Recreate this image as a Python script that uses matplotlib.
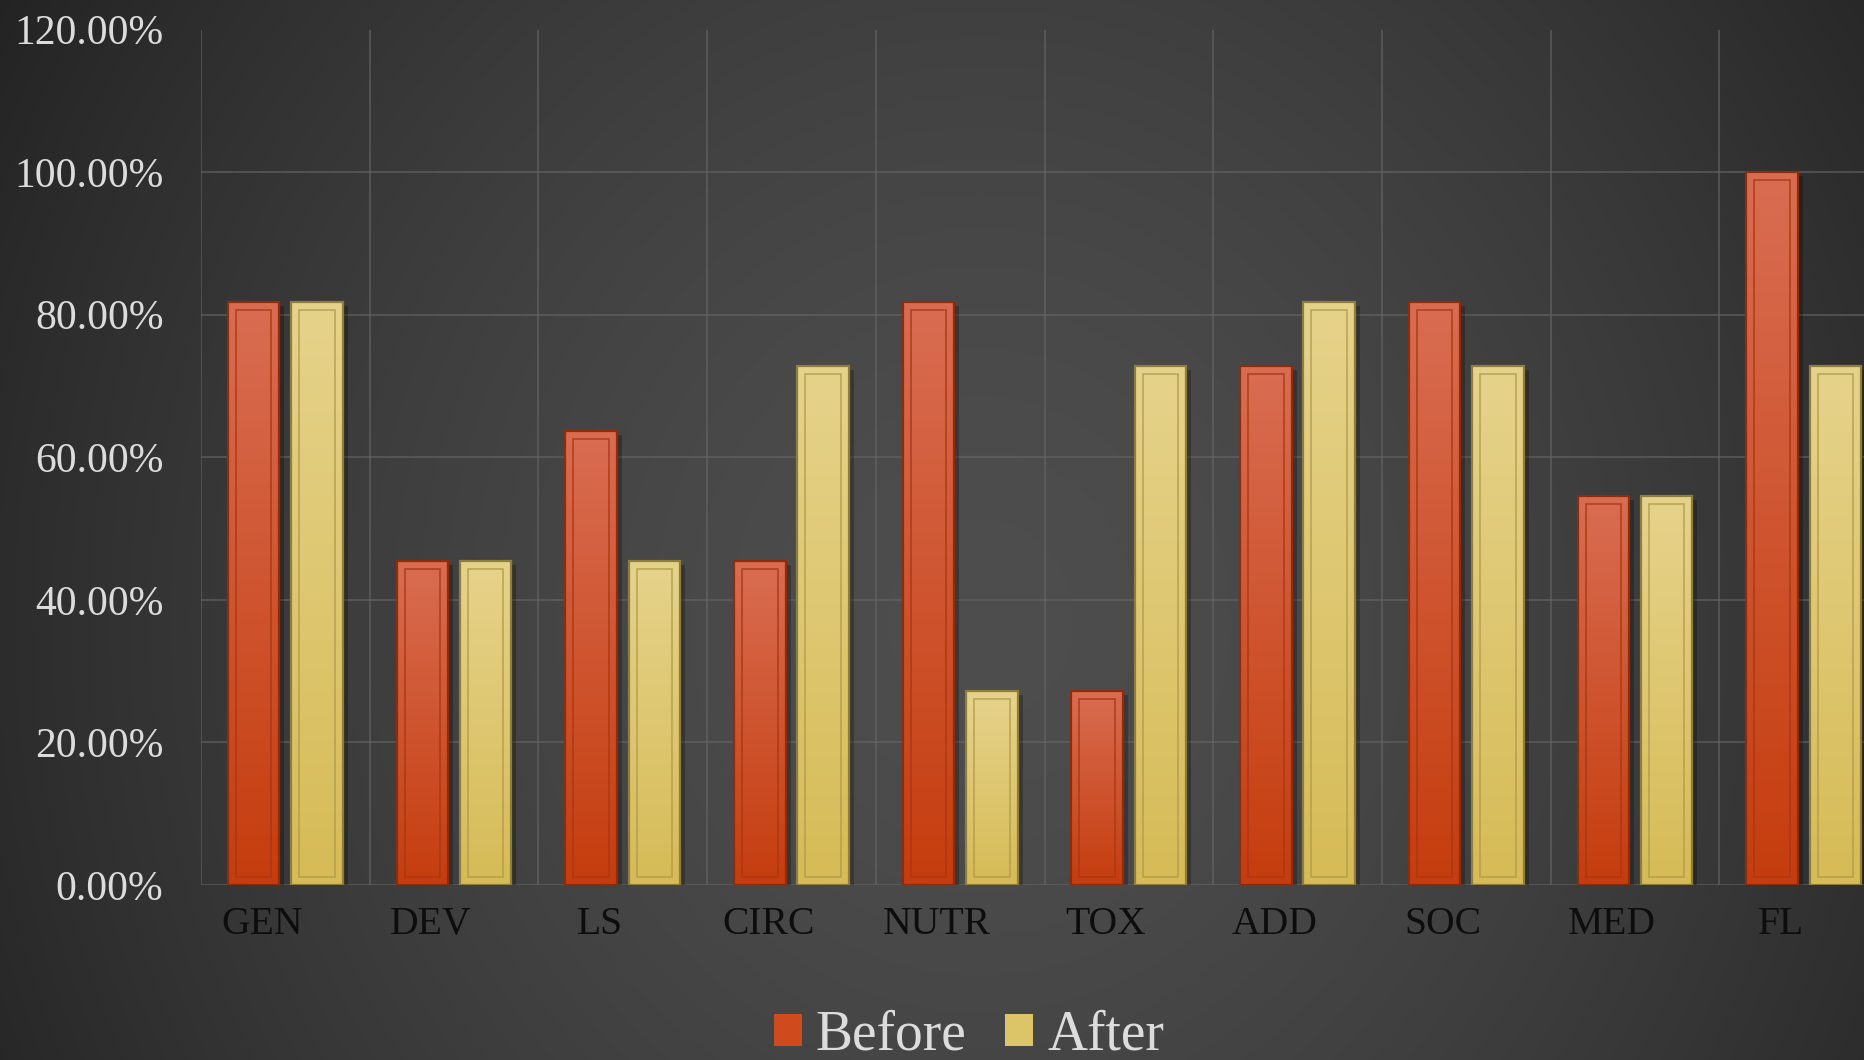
import numpy as np
import matplotlib.pyplot as plt
from matplotlib.patches import Rectangle
from matplotlib.ticker import FuncFormatter, MultipleLocator
from matplotlib.transforms import ScaledTranslation

categories = ["GEN", "DEV", "LS", "CIRC", "NUTR", "TOX", "ADD", "SOC", "MED", "FL"]
before = [0.8182, 0.4545, 0.6364, 0.4545, 0.8182, 0.2727, 0.7273, 0.8182, 0.5455, 1.0]
after = [0.8182, 0.4545, 0.4545, 0.7273, 0.2727, 0.7273, 0.8182, 0.7273, 0.5455, 0.7273]

W, H, DPI = 1865, 1060, 100
SERIF = ["Liberation Serif", "DejaVu Serif"]

fig = plt.figure(figsize=(W / DPI, H / DPI), dpi=DPI)

# dark radial background, lightest a bit below the middle
bg = fig.add_axes([0, 0, 1, 1], zorder=-10)
yy, xx = np.mgrid[0:H, 0:W]
r = np.sqrt(((xx - 980) / 1150.0) ** 2 + ((yy - 620) / 1250.0) ** 2)
v = np.clip(0.305 - 0.17 * r ** 1.6, 0.14, 0.32)
bg.imshow(np.dstack([v, v, v]), extent=(0, W, H, 0), aspect="auto", interpolation="bilinear")
bg.set_axis_off()

ax = fig.add_axes([201 / W, 175 / H, 1687 / W, 855.5 / H])
ax.set_facecolor("none")

x = np.arange(len(categories))
bw = 0.305
off = 0.1875

px_x = len(categories) / 1687.0
px_y = 1.2 / 855.5


def gradient_bars(bars, top, bottom, edge, inner):
    top = np.array(plt.matplotlib.colors.to_rgb(top))
    bottom = np.array(plt.matplotlib.colors.to_rgb(bottom))
    t = np.linspace(0, 1, 256)[:, None]
    grad = (top * (1 - t) + bottom * t)[:, None, :]
    for b in bars:
        x0, w, h = b.get_x(), b.get_width(), b.get_height()
        im = ax.imshow(grad, extent=(x0, x0 + w, 0, h), origin="upper",
                       aspect="auto", zorder=2, interpolation="bilinear")
        im.set_clip_path(b)
        # soft shadow to the right
        ax.add_patch(Rectangle((x0 + w, 0), 5 * px_x, h - 4 * px_y,
                               facecolor="black", alpha=0.25, lw=0, zorder=1.5))
        ax.add_patch(Rectangle((x0, 0), w, h, facecolor="none",
                               edgecolor=edge, lw=1.6, zorder=3))
        ax.add_patch(Rectangle((x0 + 8 * px_x, 8 * px_y), w - 16 * px_x, h - 16 * px_y,
                               facecolor="none", edgecolor=inner, lw=1.2, alpha=0.8, zorder=3))


b1 = ax.bar(x - off, before, bw, color="#cf4a1c", lw=0, zorder=2, label="Before")
b2 = ax.bar(x + off, after, bw, color="#dcc468", lw=0, zorder=2, label="After")
gradient_bars(b1, "#d96d52", "#c53d0e", "#8e2c0c", "#a83612")
gradient_bars(b2, "#e6d38b", "#d6bb56", "#8f7d3c", "#b09a4c")
ax.set_xlim(-0.5, len(categories) - 0.5)
ax.set_ylim(0, 1.2)

# grid
ax.yaxis.set_major_locator(MultipleLocator(0.2))
ax.yaxis.set_major_formatter(FuncFormatter(lambda v, p: f"{v * 100:.2f}%"))
ax.set_xticks(x)
ax.set_xticks(np.arange(-0.5, len(categories)), minor=True)
ax.set_xticklabels(categories)
ax.grid(axis="y", which="major", color="#666666", lw=1.2, alpha=0.7, zorder=0)
ax.grid(axis="x", which="minor", color="#666666", lw=1.2, alpha=0.7, zorder=0)
ax.grid(axis="x", which="major", visible=False)
ax.set_axisbelow(True)
for s in ax.spines.values():
    s.set_visible(False)

ax.tick_params(axis="both", which="both", length=0)
ax.tick_params(axis="y", pad=27, labelsize=30, labelcolor="#dcdcdc")
ax.tick_params(axis="x", pad=15, labelsize=28.5, labelcolor="#0d0d0d")
for lab in ax.get_yticklabels() + ax.get_xticklabels():
    lab.set_family(SERIF)
shift = ScaledTranslation(-23 / DPI, 0, fig.dpi_scale_trans)
for lab in ax.get_xticklabels():
    lab.set_transform(lab.get_transform() + shift)

leg = fig.legend(handles=[b1, b2], labels=["Before", "After"], loc="center",
                 bbox_to_anchor=(969 / W, 1 - 1036 / H), ncol=2, frameon=False,
                 prop={"family": SERIF, "size": 40}, labelcolor="#dcdcdc",
                 handlelength=0.5, handleheight=0.5, handletextpad=0.25,
                 columnspacing=0.7, borderpad=0.0)
leg.legend_handles[0].set_facecolor("#cf4a1c")
leg.legend_handles[0].set_edgecolor("#8e2c0c")
leg.legend_handles[1].set_facecolor("#dcc468")
leg.legend_handles[1].set_edgecolor("#8f7d3c")

fig.savefig("out.png", dpi=DPI)
